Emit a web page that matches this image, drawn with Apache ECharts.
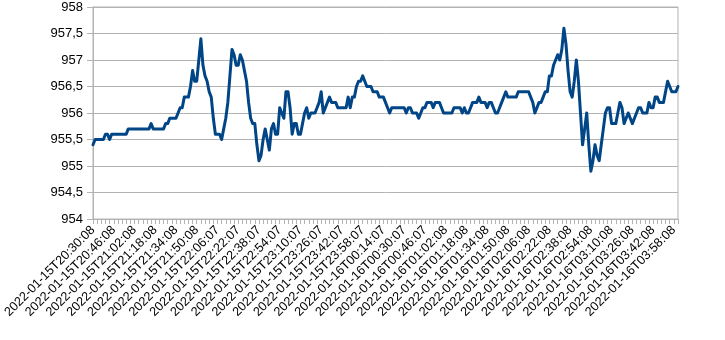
<!DOCTYPE html>
<html><head><meta charset="utf-8">
<script src="https://cdn.jsdelivr.net/npm/echarts@6/dist/echarts.min.js"></script>
<style>html,body{margin:0;padding:0;background:#fff}#c{width:725px;height:340px}</style>
</head><body><div id="c"></div>
<script>
// Tick labels shown on the category axis (every 10th sample)
const tickLabels = [
"2022-01-15T20:30:08","2022-01-15T20:46:08","2022-01-15T21:02:08","2022-01-15T21:18:08",
"2022-01-15T21:34:08","2022-01-15T21:50:08","2022-01-15T22:06:07","2022-01-15T22:22:07",
"2022-01-15T22:38:07","2022-01-15T22:54:07","2022-01-15T23:10:07","2022-01-15T23:26:07",
"2022-01-15T23:42:07","2022-01-15T23:58:07","2022-01-16T00:14:07","2022-01-16T00:30:07",
"2022-01-16T00:46:07","2022-01-16T01:02:08","2022-01-16T01:18:08","2022-01-16T01:34:08",
"2022-01-16T01:50:08","2022-01-16T02:06:08","2022-01-16T02:22:08","2022-01-16T02:38:08",
"2022-01-16T02:54:08","2022-01-16T03:10:08","2022-01-16T03:26:08","2022-01-16T03:42:08",
"2022-01-16T03:58:08"];

// Series values
const values = [
955.4,955.5,955.5,955.5,955.5,955.5,955.6,955.6,955.5,955.6,
955.6,955.6,955.6,955.6,955.6,955.6,955.6,955.7,955.7,955.7,
955.7,955.7,955.7,955.7,955.7,955.7,955.7,955.7,955.8,955.7,
955.7,955.7,955.7,955.7,955.7,955.8,955.8,955.9,955.9,955.9,
955.9,956.0,956.1,956.1,956.3,956.3,956.3,956.5,956.8,956.6,
956.6,957.0,957.4,956.9,956.7,956.6,956.4,956.3,955.9,955.6,
955.6,955.6,955.5,955.7,955.9,956.2,956.7,957.2,957.1,956.9,
956.9,957.1,957.0,956.8,956.6,956.2,955.9,955.8,955.8,955.4,
955.1,955.2,955.5,955.7,955.5,955.3,955.7,955.8,955.6,955.6,
956.1,956.0,955.9,956.4,956.4,956.1,955.6,955.8,955.8,955.6,
955.6,955.8,956.0,956.1,955.9,956.0,956.0,956.0,956.1,956.2,
956.4,956.0,956.1,956.2,956.3,956.2,956.2,956.2,956.1,956.1,
956.1,956.1,956.1,956.3,956.1,956.3,956.3,956.5,956.6,956.6,
956.7,956.6,956.5,956.5,956.5,956.4,956.4,956.4,956.3,956.3,
956.3,956.2,956.1,956.0,956.1,956.1,956.1,956.1,956.1,956.1,
956.1,956.0,956.1,956.1,956.0,956.0,956.0,955.9,956.0,956.1,
956.1,956.2,956.2,956.2,956.1,956.2,956.2,956.2,956.1,956.0,
956.0,956.0,956.0,956.0,956.1,956.1,956.1,956.1,956.0,956.1,
956.0,956.0,956.1,956.2,956.2,956.2,956.3,956.2,956.2,956.2,
956.1,956.2,956.2,956.1,956.0,956.0,956.1,956.2,956.3,956.4,
956.3,956.3,956.3,956.3,956.3,956.4,956.4,956.4,956.4,956.4,
956.4,956.3,956.2,956.0,956.1,956.2,956.2,956.3,956.4,956.4,
956.7,956.7,956.9,957.0,957.1,957.0,957.2,957.6,957.3,956.8,
956.4,956.3,956.6,957.0,956.6,956.0,955.4,955.7,956.0,955.4,
954.9,955.1,955.4,955.2,955.1,955.4,955.7,956.0,956.1,956.1,
955.8,955.8,955.8,956.0,956.2,956.1,955.8,955.9,956.0,955.9,
955.8,955.9,956.0,956.1,956.1,956.0,956.0,956.0,956.2,956.1,
956.1,956.3,956.3,956.2,956.2,956.2,956.4,956.6,956.5,956.4,
956.4,956.4,956.5];

const yMin = 954, yMax = 958, yStep = 0.5;

// Category names: every 10th sample carries a shown tick label; others are the sample times in between
function pad(n){return (n<10?'0':'')+n;}
const startMs = Date.UTC(2022,0,15,20,30,8);
const categories = values.map(function(_, i){
  if (i % 10 === 0 && tickLabels[i/10]) return tickLabels[i/10];
  const d = new Date(startMs + i*96000);
  return d.getUTCFullYear()+'-'+pad(d.getUTCMonth()+1)+'-'+pad(d.getUTCDate())+'T'+pad(d.getUTCHours())+':'+pad(d.getUTCMinutes())+':'+pad(d.getUTCSeconds());
});

const chart = echarts.init(document.getElementById('c'), null, {renderer:'canvas'});
chart.setOption({
  animation:false,
  backgroundColor:'#ffffff',
  grid:{left:88, top:7, width:590, height:212, show:true, borderColor:'#b3b3b3', borderWidth:1, containLabel:false},
  xAxis:{
    type:'category', data:categories, boundaryGap:false,
    axisLine:{show:true, lineStyle:{color:'#b3b3b3', width:1}},
    axisTick:{show:true, interval:1, length:5, inside:false, lineStyle:{color:'#b3b3b3'}},
    axisLabel:{interval:9, rotate:45, margin:9, color:'#000', fontFamily:'Liberation Sans', fontSize:12.7},
    splitLine:{show:false}
  },
  yAxis:{
    type:'value', min:yMin, max:yMax, interval:yStep,
    axisLine:{show:true, lineStyle:{color:'#b3b3b3'}},
    axisTick:{show:true, length:6, lineStyle:{color:'#b3b3b3'}},
    axisLabel:{margin:10, color:'#000', fontFamily:'Liberation Sans', fontSize:13,
      formatter:function(v){return String(v).replace('.', ',');}},
    splitLine:{show:true, lineStyle:{color:'#b3b3b3', width:1}}
  },
  series:[{
    type:'line', data:values, symbol:'none', smooth:false,
    lineStyle:{color:'#004586', width:3, cap:'round', join:'round'}
  }]
});
</script></body></html>
